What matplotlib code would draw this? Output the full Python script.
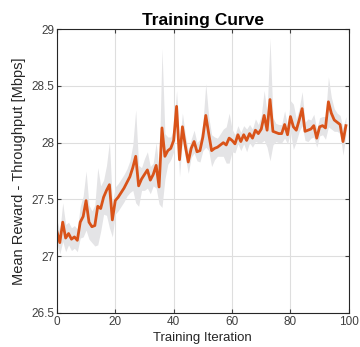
import numpy as np
import matplotlib
matplotlib.use("Agg")
import matplotlib.pyplot as plt

plt.rcParams['font.family'] = ['Liberation Sans', 'DejaVu Sans']

iterations = np.arange(100)

# mean throughput reward per training iteration
mean_reward = [
    27.22, 27.12, 27.30, 27.16, 27.20, 27.15, 27.17, 27.14, 27.30, 27.35,
    27.49, 27.30, 27.26, 27.27, 27.44, 27.42, 27.52, 27.58, 27.63, 27.32,
    27.49, 27.52, 27.56, 27.60, 27.65, 27.70, 27.78, 27.88, 27.62, 27.68,
    27.72, 27.76, 27.67, 27.72, 27.80, 27.61, 28.13, 27.88, 27.93, 27.95,
    28.02, 28.32, 27.85, 28.14, 27.97, 27.83, 27.95, 28.01, 27.92, 27.93,
    28.05, 28.24, 28.08, 27.93, 27.95, 27.96, 27.98, 28.00, 27.98, 28.04,
    28.02, 27.99, 28.07, 28.01, 28.07, 28.02, 28.08, 28.04, 28.11, 28.08,
    28.12, 28.24, 28.11, 28.38, 28.10, 28.09, 28.08, 28.08, 28.16, 28.07,
    28.23, 28.14, 28.11, 28.20, 28.30, 28.10, 28.11, 28.12, 28.15, 28.04,
    28.14, 28.15, 28.13, 28.36, 28.26, 28.20, 28.18, 28.16, 28.01, 28.15,
]

# spread of the reward across runs
reward_std = [
    0.10, 0.10, 0.17, 0.12, 0.10, 0.10, 0.10, 0.10, 0.14, 0.18,
    0.26, 0.15, 0.14, 0.18, 0.34, 0.20, 0.15, 0.22, 0.38, 0.15,
    0.12, 0.12, 0.12, 0.12, 0.12, 0.14, 0.20, 0.41, 0.18, 0.10,
    0.14, 0.16, 0.12, 0.10, 0.20, 0.15, 0.70, 0.20, 0.12, 0.10,
    0.10, 0.14, 0.15, 0.12, 0.10, 0.10, 0.08, 0.10, 0.08, 0.10,
    0.12, 0.28, 0.15, 0.14, 0.10, 0.08, 0.10, 0.12, 0.16, 0.22,
    0.10, 0.08, 0.08, 0.08, 0.08, 0.10, 0.08, 0.08, 0.10, 0.08,
    0.12, 0.22, 0.15, 0.54, 0.12, 0.08, 0.08, 0.08, 0.12, 0.08,
    0.14, 0.20, 0.10, 0.10, 0.15, 0.08, 0.10, 0.08, 0.10, 0.08,
    0.08, 0.08, 0.10, 0.22, 0.14, 0.10, 0.08, 0.08, 0.12, 0.08,
]

mean_reward = np.array(mean_reward)
reward_std = np.array(reward_std)

fig = plt.figure(figsize=(3.6, 3.47), dpi=100)
ax = fig.add_axes([0.158, 0.098, 0.811, 0.818])

ax.fill_between(iterations, mean_reward - reward_std, mean_reward + reward_std,
                color='#e4e4e6', linewidth=0, zorder=1)
ax.plot(iterations, mean_reward, color='#d95319', linewidth=2, zorder=2)

ax.set_xlim(0, 100)
ax.set_ylim(26.5, 29)
ax.set_xticks(np.arange(0, 101, 20))
ax.set_yticks([26.5, 27, 27.5, 28, 28.5, 29])
ax.set_yticklabels(['26.5', '27', '27.5', '28', '28.5', '29'])
ax.grid(True, color='#dedede', linewidth=0.8)
ax.set_axisbelow(True)
ax.tick_params(direction='in', length=3, width=0.8, labelsize=8.5,
               colors='#404040', top=True, right=True, pad=2)
for s in ax.spines.values():
    s.set_color('#262626')
    s.set_linewidth(0.8)

ax.set_xlabel('Training Iteration', fontsize=9.5, color='#262626', labelpad=3)
ax.set_ylabel('Mean Reward - Throughput [Mbps]', fontsize=10.5,
              color='#262626', labelpad=4)
ax.set_title('Training Curve', fontsize=12.5, fontweight='bold', pad=3)

fig.savefig('out.png', dpi=100)
